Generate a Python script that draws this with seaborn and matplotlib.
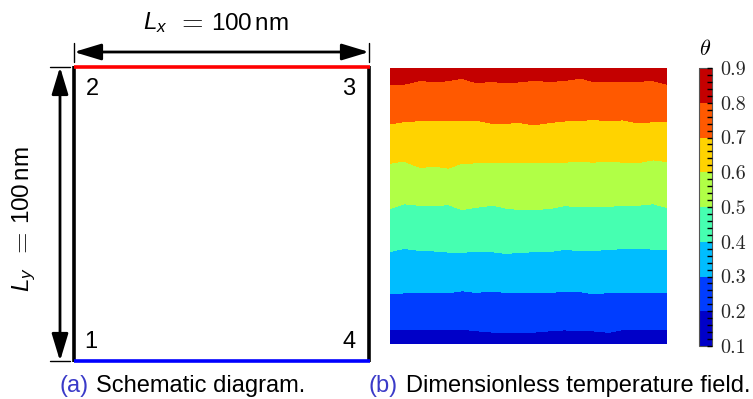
import numpy as np
import matplotlib
matplotlib.use("Agg")
import matplotlib.pyplot as plt
from matplotlib.ticker import MultipleLocator, FixedLocator
import seaborn as sns

# ---------------- data ----------------
x_nm = [0, 5, 11, 16, 21, 26, 31, 37, 42, 47, 52, 58, 63, 69, 73, 79, 84, 89, 95, 100]
levels = [0.1, 0.2, 0.3, 0.4, 0.5, 0.6, 0.7, 0.8, 0.9]
theta_bottom = 0.165
theta_top = 0.835
# y position (nm) of each isotherm along x
y_02 = [5.2, 5.1, 5.1, 5.1, 5.1, 5.4, 4.8, 4.3, 4.3, 4.3, 4.3, 4.8, 5.1, 4.8, 4.8, 4.2, 5.2, 5.1, 5.4, 5.2]
y_03 = [18.2, 18.5, 18.5, 18.5, 18.5, 19.3, 18.7, 19.2, 18.6, 18.6, 18.7, 18.8, 18.9, 18.9, 18.2, 18.6, 18.7, 18.8, 18.8, 18.8]
y_04 = [33.5, 34.6, 33.9, 33.7, 33.3, 33.3, 33.4, 33.4, 32.8, 33.2, 33.4, 33.5, 34.3, 33.8, 33.8, 34.3, 34.5, 34.5, 34.4, 34.1]
y_05 = [49.1, 50.8, 50.2, 50.1, 50.5, 48.7, 49.5, 50.3, 49.2, 48.7, 48.7, 49.1, 50.1, 49.7, 49.7, 49.9, 50.2, 50.2, 50.8, 49.5]
y_06 = [65.5, 66.3, 63.9, 64.5, 63.7, 65.5, 65.6, 65.6, 65.6, 65.6, 65.6, 65.7, 65.9, 66.1, 65.9, 66.1, 65.9, 65.6, 66.7, 66.1]
y_07 = [79.7, 80.6, 80.9, 81.1, 81.1, 81.1, 81.1, 79.9, 80.0, 80.2, 79.4, 80.3, 80.8, 80.9, 81.4, 80.8, 81.2, 80.2, 80.5, 80.5]
y_08 = [94.1, 94.1, 95.5, 95.0, 95.4, 96.3, 94.7, 95.1, 94.6, 95.0, 95.5, 95.1, 95.5, 96.3, 95.2, 95.1, 95.1, 95.2, 95.4, 94.1]
tick_labels = ["0.1", "0.2", "0.3", "0.4", "0.5", "0.6", "0.7", "0.8", "0.9"]
corner_labels = ["1", "2", "3", "4"]

# ---------------- style ----------------
sns.set_style("white")
plt.rcParams["font.family"] = ["Liberation Sans", "DejaVu Sans"]
plt.rcParams["text.color"] = "black"
plt.rcParams["mathtext.fontset"] = "custom"
plt.rcParams["mathtext.rm"] = "Liberation Sans"
plt.rcParams["mathtext.it"] = "Liberation Sans:italic"
plt.rcParams["mathtext.sf"] = "Liberation Sans"

W, H = 753, 399
fig = plt.figure(figsize=(W / 100, H / 100), dpi=100)

# ---------------- left: schematic ----------------
ax0 = fig.add_axes([0, 0, 1, 1])
ax0.set_xlim(0, W)
ax0.set_ylim(H, 0)
ax0.axis("off")

L, R, T, B = 74, 369, 67, 361
lw = 2.6
ax0.plot([L, L], [T - 1, B + 1], color="black", lw=lw, solid_capstyle="butt")
ax0.plot([R, R], [T - 1, B + 1], color="black", lw=lw, solid_capstyle="butt")
ax0.plot([L, R + 1], [T, T], color="#ff0000", lw=lw, solid_capstyle="butt")
ax0.plot([L, R + 1], [B, B], color="#0000ff", lw=lw, solid_capstyle="butt")

# dimension arrows
ay = 52
ax0.annotate("", xy=(L, ay), xytext=(R, ay),
             arrowprops=dict(arrowstyle="<|-|>,head_length=1.65,head_width=0.5",
                             color="black", lw=2.0, shrinkA=0, shrinkB=0))
ax0.plot([L, L], [43, 62], color="black", lw=1.0)
ax0.plot([R, R], [43, 62], color="black", lw=1.0)
vx = 60
ax0.annotate("", xy=(vx, T), xytext=(vx, B),
             arrowprops=dict(arrowstyle="<|-|>,head_length=1.65,head_width=0.5",
                             color="black", lw=2.0, shrinkA=0, shrinkB=0))
ax0.plot([50, 70], [T, T], color="black", lw=1.0)
ax0.plot([50, 70], [B, B], color="black", lw=1.0)

# dimension labels (built from pieces so the "=" can be the wide TeX sign)
lfs = 17.5
ax0.text(143, 29.5, r"$L_x$", fontsize=lfs, ha="left", va="baseline")
ax0.text(190, 29.5, r"$=$", fontsize=20, math_fontfamily="cm", ha="center", va="baseline")
ax0.text(211, 29.5, r"$100\,\mathrm{nm}$", fontsize=lfs, ha="left", va="baseline")

ax0.text(29, 292, r"$L_y$", fontsize=lfs, ha="left", va="baseline",
         rotation=90, rotation_mode="anchor")
ax0.text(29, 245, r"$=$", fontsize=20, math_fontfamily="cm", ha="center", va="baseline",
         rotation=90, rotation_mode="anchor")
ax0.text(29, 224, r"$100\,\mathrm{nm}$", fontsize=lfs, ha="left", va="baseline",
         rotation=90, rotation_mode="anchor")

cfs = 17
ax0.text(92, 89, corner_labels[1], fontsize=cfs, ha="center", va="center")
ax0.text(349, 89, corner_labels[2], fontsize=cfs, ha="center", va="center")
ax0.text(91, 342, corner_labels[0], fontsize=cfs, ha="center", va="center")
ax0.text(349, 342, corner_labels[3], fontsize=cfs, ha="center", va="center")

cap_col = "#3a3ac8"
cap_fs = 17
ax0.text(60, 386, "(a)", fontsize=cap_fs, color=cap_col, ha="left", va="center")
ax0.text(96, 386, "Schematic diagram.", fontsize=cap_fs, color="black", ha="left", va="center")
ax0.text(369, 386, "(b)", fontsize=cap_fs, color=cap_col, ha="left", va="center")
ax0.text(406, 386, "Dimensionless temperature field.", fontsize=cap_fs, color="black",
         ha="left", va="center")

# ---------------- right: temperature field ----------------
ax1 = fig.add_axes([390 / W, 1 - 344 / H, 277 / W, 276 / H])
rows_y = [np.zeros(len(x_nm)), y_02, y_03, y_04, y_05, y_06, y_07, y_08, np.full(len(x_nm), 100.0)]
rows_t = [theta_bottom, 0.2, 0.3, 0.4, 0.5, 0.6, 0.7, 0.8, theta_top]
Y = np.array(rows_y, dtype=float)
X = np.tile(np.array(x_nm, dtype=float), (len(rows_y), 1))
Z = np.array([[t] * len(x_nm) for t in rows_t])
cs = ax1.contourf(X, Y, Z, levels=levels, cmap="jet", vmin=0.1, vmax=0.9)
ax1.set_xlim(0, 100)
ax1.set_ylim(0, 100)
ax1.axis("off")

# colorbar
cax = fig.add_axes([699 / W, 1 - 346 / H, 13 / W, 278 / H])
cb = fig.colorbar(cs, cax=cax, ticks=levels)
cb.outline.set_linewidth(0.8)
cb.outline.set_edgecolor("#555555")
cax.set_axisbelow(False)
cb.minorlocator = MultipleLocator(0.02)
cax.yaxis.set_major_locator(FixedLocator(levels))
cax.set_yticklabels(tick_labels, fontfamily="cmr10", fontsize=14.5)
cax.tick_params(axis="y", which="both", direction="in", right=True, left=False,
                length=3.5, width=1.0, color="black", pad=6)
cax.text(0.5, 1.03, r"$\theta$", transform=cax.transAxes, ha="center", va="bottom",
         fontsize=16, math_fontfamily="cm")

fig.savefig("out.png", dpi=100)
